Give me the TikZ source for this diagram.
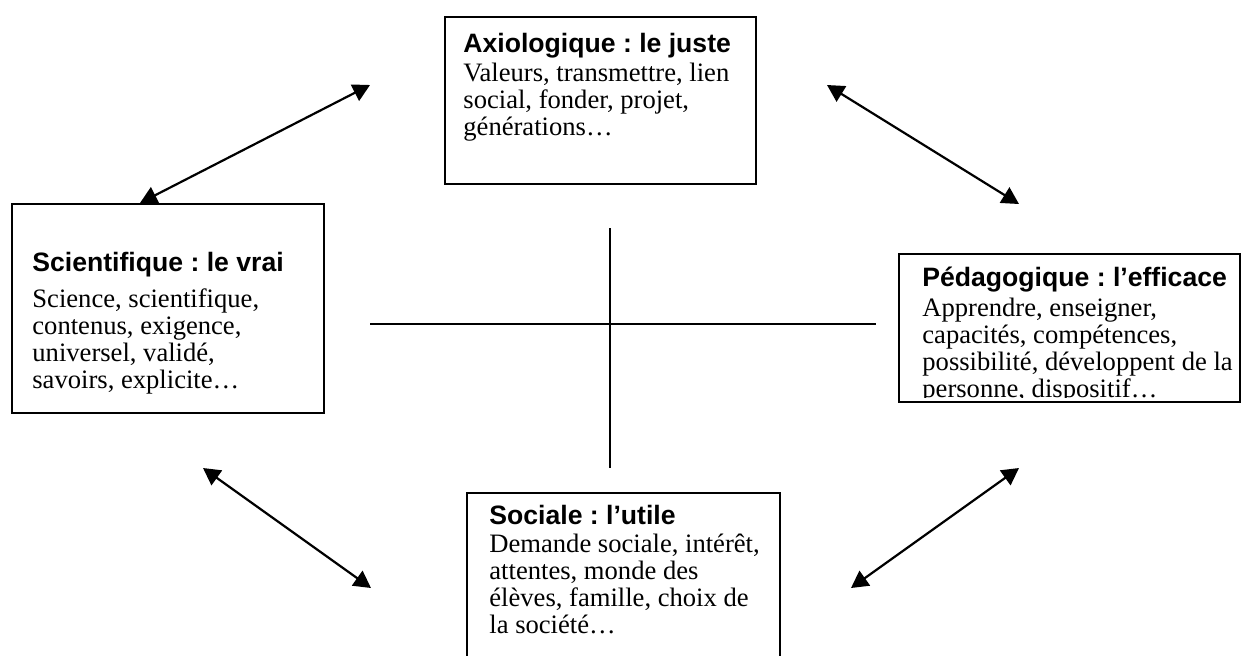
\documentclass[tikz,border=0pt]{standalone}
\usepackage{fontspec}
\setmainfont{Liberation Serif}
\setsansfont{Liberation Sans}
\usetikzlibrary{arrows.meta}
\frenchspacing
\begin{document}
\begin{tikzpicture}[x=0.5pt,y=-0.5pt,
  box/.style={draw, line width=1.1pt, inner sep=0pt, anchor=north west},
  txt/.style={anchor=base west, inner sep=0pt, font=\frenchspacing\fontsize{13.3}{13.5}\selectfont},
  link/.style={line width=1.1pt, {Triangle[length=8.5pt,width=9pt]}-{Triangle[length=8.5pt,width=9pt]}},
  axisline/.style={line width=1pt}]
\clip (0,0) rectangle (1248,655);
\fill[white] (0,0) rectangle (1248,655);

% boxes
\node[box, minimum width=155.5pt, minimum height=83.5pt] (axio) at (444,16) {};
\node[box, minimum width=156pt, minimum height=104.5pt] (sci) at (11,203) {};
\node[box, minimum width=170.5pt, minimum height=74pt] (peda) at (898,253) {};
\node[box, minimum width=156.5pt, minimum height=100pt] (soc) at (466,492) {};

% texts
\node[txt] (axiot) at (463,52) {\begin{tabular}[t]{@{}l@{}}\sffamily\bfseries Axiologique : le juste\\[1pt]
Valeurs, transmettre, lien\\ social, fonder, projet,\\ générations…\end{tabular}};
\node[txt] (scit) at (32,271) {\begin{tabular}[t]{@{}l@{}}\sffamily\bfseries Scientifique : le vrai\\[4.5pt]
Science, scientifique,\\ contenus, exigence,\\ universel, validé,\\ savoirs, explicite…\end{tabular}};
\begin{scope}
\clip (898,253) rectangle (1239,397);
\node[txt] (pedat) at (922,286) {\begin{tabular}[t]{@{}l@{}}\sffamily\bfseries Pédagogique : l’efficace\\[1.5pt]
Apprendre, enseigner,\\ capacités, compétences,\\ possibilité, développent de la\\ personne, dispositif…\end{tabular}};
\end{scope}
\node[txt] (soct) at (489,524) {\begin{tabular}[t]{@{}l@{}}\sffamily\bfseries Sociale : l’utile\\[0.5pt]
Demande sociale, intérêt,\\ attentes, monde des\\ élèves, famille, choix de\\ la société…\end{tabular}};

% cross
\coordinate (vtop) at (610,228);
\coordinate (vbot) at (610,468);
\coordinate (hl) at (370,324);
\coordinate (hr) at (876,324);
\draw[axisline] (vtop) -- (vbot);
\draw[axisline] (hl) -- (hr);

% arrows
\coordinate (a1a) at (140,203);
\coordinate (a1b) at (370,85);
\coordinate (a2a) at (827,85);
\coordinate (a2b) at (1019,204);
\coordinate (a3a) at (203,468);
\coordinate (a3b) at (371,588);
\coordinate (a4a) at (1019,468);
\coordinate (a4b) at (851,588);
\draw[link] (a1a) -- (a1b);
\draw[link] (a2a) -- (a2b);
\draw[link] (a3a) -- (a3b);
\draw[link] (a4a) -- (a4b);
\end{tikzpicture}
\end{document}
